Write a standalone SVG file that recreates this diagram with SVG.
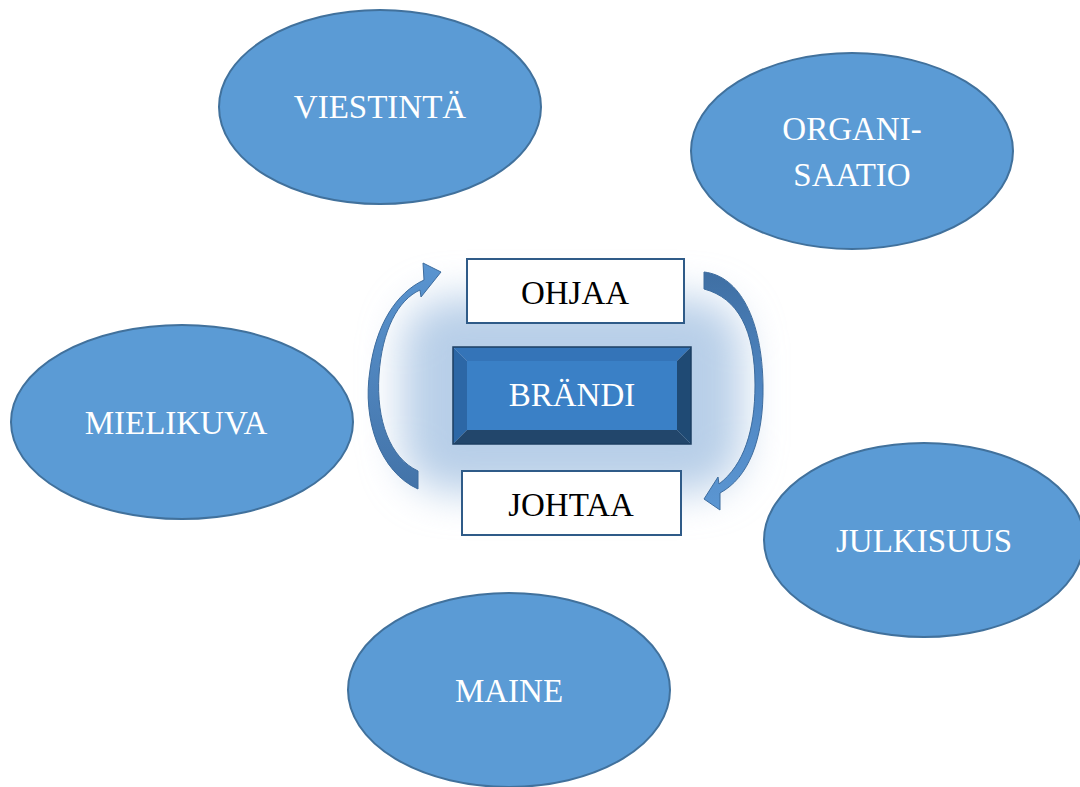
<svg xmlns="http://www.w3.org/2000/svg" width="1080" height="787" viewBox="0 0 1080 787">
  <defs>
    <filter id="soft" x="-50%" y="-50%" width="200%" height="200%">
      <feGaussianBlur stdDeviation="20"/>
    </filter>
    <linearGradient id="arrowR" x1="0" y1="0" x2="0" y2="1">
      <stop offset="0" stop-color="#3f6fa3"/>
      <stop offset="0.5" stop-color="#4f86c2"/>
      <stop offset="1" stop-color="#5b96d2"/>
    </linearGradient>
    <linearGradient id="arrowL" x1="0" y1="1" x2="0" y2="0">
      <stop offset="0" stop-color="#4373a8"/>
      <stop offset="1" stop-color="#5a95d1"/>
    </linearGradient>
  </defs>
  <style>
    .oval { fill: #5b9bd5; stroke: #41719c; stroke-width: 2; }
    .label { font-family: "Liberation Serif", "DejaVu Serif", serif; font-size: 33px; text-anchor: middle; }
    .light { fill: #ffffff; }
    .dark { fill: #000000; }
    .box { fill: #ffffff; stroke: #2f5b88; stroke-width: 2; }
    .arrow { stroke: #3d6c9e; stroke-width: 1; }
  </style>

  <rect width="1080" height="787" fill="#ffffff"/>

  <!-- soft halo behind the central block -->
  <rect x="402" y="298" width="340" height="194" rx="50" fill="#b8cfe8" filter="url(#soft)"/>

  <g id="viestinta">
    <ellipse class="oval" cx="380" cy="107" rx="161" ry="97"/>
    <text class="label light" x="380" y="118">VIESTINTÄ</text>
  </g>

  <g id="organisaatio">
    <ellipse class="oval" cx="852" cy="151" rx="161" ry="98"/>
    <text class="label light" x="852" y="140">ORGANI-</text>
    <text class="label light" x="852" y="186">SAATIO</text>
  </g>

  <g id="mielikuva">
    <ellipse class="oval" cx="182" cy="422" rx="171" ry="97"/>
    <text class="label light" x="176" y="434">MIELIKUVA</text>
  </g>

  <g id="julkisuus">
    <ellipse class="oval" cx="924" cy="540" rx="160" ry="97"/>
    <text class="label light" x="924" y="552">JULKISUUS</text>
  </g>

  <g id="maine">
    <ellipse class="oval" cx="509" cy="690" rx="161" ry="97"/>
    <text class="label light" x="509" y="702">MAINE</text>
  </g>

  <g id="ohjaa">
    <rect class="box" x="467" y="259" width="217" height="64"/>
    <text class="label dark" x="575" y="304">OHJAA</text>
  </g>

  <g id="johtaa">
    <rect class="box" x="462" y="471" width="219" height="64"/>
    <text class="label dark" x="571" y="516">JOHTAA</text>
  </g>

  <g id="brandi">
    <!-- bevelled block: four sloped edges around a flat face -->
    <polygon points="453,347 691,347 677,361 467,361" fill="#3474b8"/>
    <polygon points="453,347 467,361 467,430 453,444" fill="#2c67a6"/>
    <polygon points="691,347 691,444 677,430 677,361" fill="#1f4a74"/>
    <polygon points="453,444 467,430 677,430 691,444" fill="#22466b"/>
    <rect x="467" y="361" width="210" height="69" fill="#3a80c6"/>
    <rect x="453" y="347" width="238" height="97" fill="none" stroke="#1d3f62" stroke-width="1.5"/>
    <text class="label light" x="572" y="406">BRÄNDI</text>
  </g>

  <g id="connectors">
    <!-- left loop, rising from JOHTAA towards OHJAA -->
    <path class="arrow" fill="url(#arrowL)" d="M 418 489 C 380 472, 362 420, 370 370 C 376 325, 396 293, 424 280 L 423 263 L 441 272 L 421 297 L 420 290 C 398 300, 382 330, 379 375 C 376 420, 390 458, 418 471 Z"/>
    <!-- right loop, descending from OHJAA towards JOHTAA -->
    <path class="arrow" fill="url(#arrowR)" d="M 704 272 C 740 276, 762 320, 763 385 C 764 440, 748 478, 720 493 L 720 510 L 704 499 L 718 477 L 719 484 C 744 465, 755 430, 755 385 C 755 330, 738 298, 704 289 Z"/>
  </g>
</svg>
